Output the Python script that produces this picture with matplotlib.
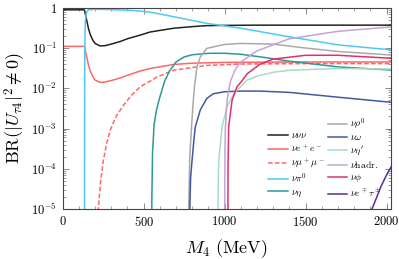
import numpy as np
import matplotlib
matplotlib.use("Agg")
import matplotlib.pyplot as plt
from matplotlib.lines import Line2D
from matplotlib.ticker import LogLocator, MultipleLocator, FixedLocator, FixedFormatter

plt.rcParams['mathtext.fontset'] = 'cm'
plt.rcParams['font.family'] = 'serif'
plt.rcParams['font.serif'] = ['DejaVu Serif']

# Branching ratios vs HNL mass M4 (MeV)
m_nununu = [0, 133, 136, 140, 148, 160, 170, 185, 200, 230, 260, 300, 355, 400, 480, 540, 685, 800, 890, 1000, 1200, 1500, 2050]
br_nununu = [0.89, 0.89, 0.85, 0.7, 0.5, 0.3, 0.22, 0.16, 0.13, 0.113, 0.114, 0.125, 0.145, 0.17, 0.21, 0.25, 0.31, 0.34, 0.36, 0.365, 0.37, 0.37, 0.37]

m_nuee = [1.03, 1.2, 1.5, 2, 133, 136, 140, 148, 160, 170, 185, 200, 230, 260, 300, 355, 400, 480, 540, 685, 800, 1000, 1500, 2050]
br_nuee = [1e-7, 0.02, 0.08, 0.11, 0.11, 0.105, 0.087, 0.062, 0.037, 0.027, 0.02, 0.016, 0.014, 0.0143, 0.0155, 0.018, 0.021, 0.027, 0.031, 0.039, 0.042, 0.044, 0.045, 0.045]

m_numumu = [211.5, 215, 220, 235, 250, 270, 293, 330, 380, 427, 480, 540, 582, 685, 890, 1100, 1500, 2050]
br_numumu = [1e-8, 2e-6, 1e-5, 5e-5, 1.5e-4, 4e-4, 9e-4, 2e-3, 4e-3, 6.8e-3, 0.011, 0.015, 0.019, 0.028, 0.037, 0.04, 0.041, 0.041]

m_nupi = [134.98, 135.2, 135.6, 137, 140, 145, 152, 159, 200, 300, 400, 480, 540, 685, 890, 1100, 1400, 1700, 2050]
br_nupi = [1e-8, 1e-4, 5e-3, 0.1, 0.45, 0.7, 0.82, 0.88, 0.92, 0.9, 0.87, 0.83, 0.78, 0.6, 0.41, 0.31, 0.19, 0.12, 0.088]

m_nueta = [547.9, 549, 551, 555, 565, 580, 600, 630, 660, 700, 750, 800, 900, 1000, 1100, 1250, 1400, 1700, 2050]
br_nueta = [1e-8, 2e-6, 2e-5, 2.5e-4, 1.3e-3, 3e-3, 6e-3, 0.015, 0.027, 0.045, 0.06, 0.068, 0.074, 0.074, 0.07, 0.058, 0.047, 0.034, 0.028]

m_nurho = [775.3, 776.5, 778, 785, 795, 805, 815, 830, 850, 890, 1000, 1100, 1300, 1500, 1700, 2050]
br_nurho = [1e-8, 1e-6, 1e-5, 2e-4, 1e-3, 4e-3, 0.012, 0.035, 0.06, 0.098, 0.123, 0.13, 0.125, 0.1, 0.082, 0.066]

m_nuomega = [782.7, 783.5, 785, 790, 799, 810, 819, 850, 890, 930, 1000, 1100, 1220, 1400, 1700, 2050]
br_nuomega = [1e-8, 1e-6, 1e-5, 6e-5, 1.6e-4, 5e-4, 1.1e-3, 2.9e-3, 5.6e-3, 7.3e-3, 8.2e-3, 8.5e-3, 8.5e-3, 7.9e-3, 6e-3, 4.4e-3]

m_nuetap = [957.8, 958.5, 960, 964, 984, 1015, 1057, 1100, 1140, 1200, 1300, 1400, 1700, 2050]
br_nuetap = [1e-8, 1e-6, 3e-5, 1.6e-4, 1.1e-3, 3.5e-3, 7.4e-3, 0.011, 0.016, 0.02, 0.025, 0.028, 0.031, 0.03]

m_nuhadr = [999.5, 1000, 1002, 1005, 1015, 1036, 1067, 1100, 1200, 1400, 1700, 2050]
br_nuhadr = [1e-8, 1e-6, 3e-4, 1.1e-3, 5e-3, 0.015, 0.03, 0.045, 0.085, 0.17, 0.26, 0.34]

m_nuphi = [1019.5, 1020.2, 1021, 1025, 1046, 1077, 1100, 1140, 1220, 1300, 1500, 1700, 2050]
br_nuphi = [1e-8, 1e-6, 1e-4, 1.1e-3, 5e-3, 0.011, 0.014, 0.023, 0.04, 0.053, 0.066, 0.066, 0.055]

m_nuetau = [1778, 1800, 1850, 1880, 1910, 1940, 1965, 2000, 2050]
br_nuetau = [1e-10, 1e-8, 1e-6, 3e-6, 1e-5, 2e-5, 3.6e-5, 7e-5, 1.6e-4]

fig = plt.figure(figsize=(3.99, 2.59), dpi=100)
ax = fig.add_axes([0.157, 0.193, 0.822, 0.777])

lw = 1.1
l_nununu, = ax.plot(m_nununu, br_nununu, color='#222222', lw=lw, label=r'$\nu\nu\nu$')
l_nuee, = ax.plot(m_nuee, br_nuee, color='#ff6666', lw=lw, label=r'$\nu e^+e^-$')
l_numumu, = ax.plot(m_numumu, br_numumu, color='#ff6666', lw=lw, ls=(0, (3, 1.5)), label=r'$\nu\mu^+\mu^-$')
l_nupi, = ax.plot(m_nupi, br_nupi, color='#4fc8f5', lw=lw, label=r'$\nu\pi^0$')
l_nueta, = ax.plot(m_nueta, br_nueta, color='#2a9a98', lw=lw, label=r'$\nu\eta$')
l_nurho, = ax.plot(m_nurho, br_nurho, color='#aaaaaa', lw=lw, label=r'$\nu\rho^0$')
l_nuomega, = ax.plot(m_nuomega, br_nuomega, color='#4058a6', lw=lw, label=r'$\nu\omega$')
l_nuetap, = ax.plot(m_nuetap, br_nuetap, color='#a8dbc5', lw=lw, label=r"$\nu\eta'$")
l_nuhadr, = ax.plot(m_nuhadr, br_nuhadr, color='#c4a4d8', lw=lw, label=r'$\nu\mathrm{hadr.}$')
l_nuphi, = ax.plot(m_nuphi, br_nuphi, color='#e0306c', lw=lw, label=r'$\nu\phi$')
l_nuetau, = ax.plot(m_nuetau, br_nuetau, color='#5a2d91', lw=lw, label=r'$\nu e^\mp\tau^\pm$')

ax.set_yscale('log')
ax.set_xlim(0, 2025)
ax.set_ylim(1e-5, 1)

ax.xaxis.set_major_locator(FixedLocator([0, 500, 1000, 1500, 2000]))
ax.xaxis.set_major_formatter(FixedFormatter([r'$0$', r'$500$', r'$1000$', r'$1500$', r'$2000$']))
ax.xaxis.set_minor_locator(MultipleLocator(100))
ax.yaxis.set_major_locator(FixedLocator([1e-5, 1e-4, 1e-3, 1e-2, 1e-1, 1]))
ax.yaxis.set_major_formatter(FixedFormatter([r'$10^{-5}$', r'$10^{-4}$', r'$10^{-3}$',
                                             r'$10^{-2}$', r'$10^{-1}$', r'$1$']))
ax.yaxis.set_minor_locator(LogLocator(base=10, subs=np.arange(2, 10), numticks=20))
ax.tick_params(which='both', direction='in', top=True, right=True, color='#777777', labelsize=9)
ax.tick_params(which='major', length=4, width=0.6, pad=4)
ax.tick_params(which='minor', length=2, width=0.5)
for s in ax.spines.values():
    s.set_color('#444444')
    s.set_linewidth(0.8)

ax.set_xlabel(r'$M_4\ \mathrm{(MeV)}$', fontsize=13, labelpad=6)
ax.set_ylabel(r'$\mathrm{BR}(|U_{\tau 4}|^2 \neq 0)$', fontsize=13, labelpad=2)

blank = Line2D([], [], color='none')
handles = [blank, l_nununu, l_nuee, l_numumu, l_nupi, l_nueta,
           l_nurho, l_nuomega, l_nuetap, l_nuhadr, l_nuphi, l_nuetau]
labels = [' '] + [h.get_label() for h in handles[1:]]
ax.legend(handles, labels, ncol=2, loc='lower left', bbox_to_anchor=(0.615, 0.03),
          frameon=False, fontsize=7, handlelength=2.0, handletextpad=0.3,
          labelspacing=0.22, columnspacing=0.3, borderaxespad=0)

fig.savefig('out.png', dpi=100)
